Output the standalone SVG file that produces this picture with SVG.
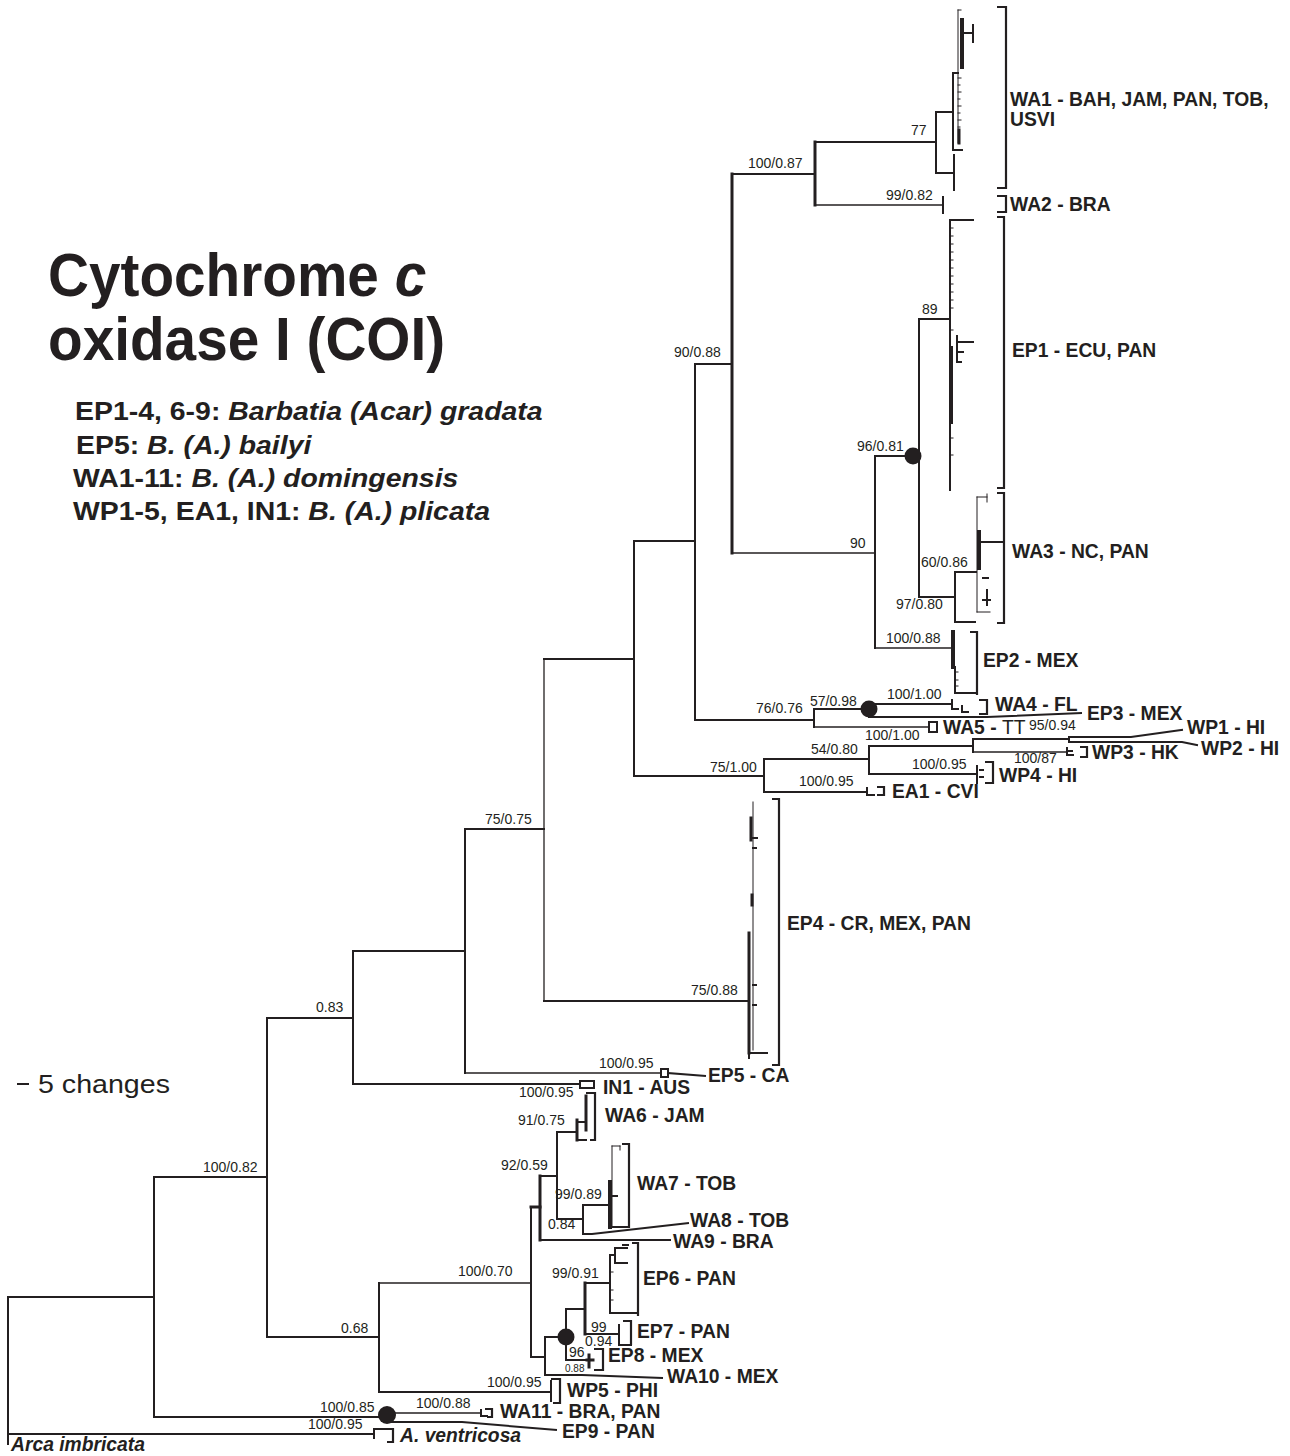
<svg xmlns="http://www.w3.org/2000/svg" width="1290" height="1456" viewBox="0 0 1290 1456">
<style>
.br{fill:none;stroke:#231f20;stroke-width:2;stroke-linecap:square}
.th{stroke-width:1.3}
.tk{stroke-width:3}
.tx{stroke-width:4}
.tn{stroke-width:1}
.bk{fill:none;stroke:#231f20;stroke-width:2.2}
.lb{font-family:"Liberation Sans",Arial,sans-serif;font-weight:bold;font-size:19.3px;fill:#231f20}
.it{font-style:italic}
.sp{font-family:"Liberation Sans",Arial,sans-serif;font-size:14px;fill:#231f20}
.dot{fill:#231f20}
.ttl{font-family:"Liberation Sans",Arial,sans-serif;font-weight:bold;font-size:61px;fill:#231f20}
.leg{font-family:"Liberation Sans",Arial,sans-serif;font-weight:bold;font-size:25.5px;fill:#231f20}
</style>
<rect width="1290" height="1456" fill="#fff"/>

<g id="title">
<text class="ttl" transform="matrix(0.93 0 0 1 48 296)">Cytochrome <tspan class="it">c</tspan></text>
<text class="ttl" transform="matrix(0.93 0 0 1 48 360)">oxidase I (COI)</text>
<text class="leg" transform="matrix(1.115 0 0 1 75 420)">EP1-4, 6-9: <tspan class="it">Barbatia (Acar) gradata</tspan></text>
<text class="leg" transform="matrix(1.115 0 0 1 76 454)">EP5: <tspan class="it">B. (A.) bailyi</tspan></text>
<text class="leg" transform="matrix(1.115 0 0 1 73 487)">WA1-11: <tspan class="it">B. (A.) domingensis</tspan></text>
<text class="leg" transform="matrix(1.115 0 0 1 73 520)">WP1-5, EA1, IN1: <tspan class="it">B. (A.) plicata</tspan></text>
</g>

<g id="scale">
<path class="br" d="M18 1084H28"/>
<text transform="matrix(1.1 0 0 1 38 1093)" font-family="Liberation Sans, Arial, sans-serif" font-size="26" fill="#231f20">5 changes</text>
</g>

<g id="connectors" class="br">
<path d="M8 1297V1444"/>
<path d="M8 1297H154"/>
<path d="M8 1434H374"/>
<path d="M154 1177V1417"/>
<path d="M154 1177H267"/>
<path d="M154 1417H387"/>
<path d="M267 1018V1337"/>
<path d="M267 1018H353"/>
<path d="M267 1337H379"/>
<path d="M353 951V1084"/>
<path d="M353 951H465"/>
<path d="M353 1084H580"/>
<path d="M465 829V1073"/>
<path d="M465 829H544"/>
<path class="th" d="M465 1073H661"/>
<path class="th" d="M544 659V1001"/>
<path d="M544 659H634"/>
<path d="M544 1001H748"/>
<path d="M634 541V776"/>
<path d="M634 541H695"/>
<path d="M634 776H764"/>
<path d="M695 364V720"/>
<path d="M695 364H732"/>
<path d="M695 720H814"/>
<path class="tk" d="M732 174V553"/>
<path d="M732 174H815"/>
<path class="th" d="M732 553H875"/>
<path class="tk" d="M815 142V205"/>
<path d="M815 142H936"/>
<path class="th" d="M815 205H943"/>
<path d="M936 112V173"/>
<path d="M936 112H953"/>
<path d="M936 173H954"/>
<path d="M875 456V648"/>
<path d="M875 456H913"/>
<path class="th" d="M875 648H951"/>
<path d="M919 319V597"/>
<path d="M919 319H950"/>
<path d="M919 597H955"/>
<path d="M955 572V622"/>
<path d="M955 572H976"/>
<path d="M955 622H975"/>
<path d="M814 709V727"/>
<path d="M814 709H869"/>
<path class="th" d="M814 727H929"/>
<path d="M869 704H952"/>
<path d="M869 717H987L1081 713"/>
<path d="M764 759V792"/>
<path d="M764 759H869"/>
<path d="M764 792H867"/>
<path d="M869 746V774"/>
<path d="M869 746H973"/>
<path d="M869 774H976"/>
<path d="M973 739V752"/>
<path d="M973 739H1069"/>
<path class="th" d="M973 752H1067"/>
<path d="M1069 737V742"/>
<path d="M1069 737H1131L1182 730"/>
<path d="M1069 742H1182L1197 745"/>
<path d="M379 1283V1392"/>
<path class="th" d="M379 1283H531"/>
<path d="M379 1392H551"/>
<path d="M531 1207V1357"/>
<path class="tk" d="M531 1207H540"/>
<path d="M531 1357H545"/>
<path class="tk" d="M540 1176V1240"/>
<path d="M540 1176H557"/>
<path d="M540 1240H573L670 1240"/>
<path d="M557 1132V1219"/>
<path d="M557 1132H577"/>
<path d="M557 1219H583"/>
<path d="M583 1205V1234"/>
<path d="M583 1205H610"/>
<path d="M583 1234H592L688 1223"/>
<path d="M545 1337V1375"/>
<path d="M545 1337H566"/>
<path d="M545 1375H582L662 1378"/>
<path d="M566 1309V1360"/>
<path d="M566 1309H585"/>
<path d="M566 1360H587"/>
<path class="tk" d="M585 1283V1334"/>
<path d="M585 1283H610"/>
<path d="M585 1334H619"/>
<path class="th" d="M387 1413H481"/>
<path d="M387 1422H462L556 1430"/>
<path d="M668 1073L705 1076"/>
</g>

<g id="support" class="sp">
<text x="203" y="1172">100/0.82</text>
<text x="316" y="1012">0.83</text>
<text x="485" y="824">75/0.75</text>
<text x="674" y="357">90/0.88</text>
<text x="748" y="168">100/0.87</text>
<text x="911" y="135">77</text>
<text x="886" y="200">99/0.82</text>
<text x="922" y="314">89</text>
<text x="857" y="451">96/0.81</text>
<text x="850" y="548">90</text>
<text x="921" y="567">60/0.86</text>
<text x="896" y="609">97/0.80</text>
<text x="886" y="643">100/0.88</text>
<text x="887" y="699">100/1.00</text>
<text x="810" y="706">57/0.98</text>
<text x="756" y="713">76/0.76</text>
<text x="865" y="740">100/1.00</text>
<text x="1029" y="730">95/0.94</text>
<text x="811" y="754">54/0.80</text>
<text x="1014" y="763">100/87</text>
<text x="912" y="769">100/0.95</text>
<text x="710" y="772">75/1.00</text>
<text x="799" y="786">100/0.95</text>
<text x="691" y="995">75/0.88</text>
<text x="599" y="1068">100/0.95</text>
<text x="519" y="1097">100/0.95</text>
<text x="518" y="1125">91/0.75</text>
<text x="501" y="1170">92/0.59</text>
<text x="555" y="1199">99/0.89</text>
<text x="548" y="1229">0.84</text>
<text x="458" y="1276">100/0.70</text>
<text x="552" y="1278">99/0.91</text>
<text x="341" y="1333">0.68</text>
<text x="591" y="1332">99</text>
<text x="585" y="1346">0.94</text>
<text x="569" y="1357">96</text>
<text x="565" y="1372" font-size="10">0.88</text>
<text x="487" y="1387">100/0.95</text>
<text x="416" y="1408">100/0.88</text>
<text x="320" y="1412">100/0.85</text>
<text x="308" y="1429">100/0.95</text>
</g>

<g id="dot1"><circle class="dot" cx="913" cy="456" r="8.5"/></g>
<g id="dot2"><circle class="dot" cx="869" cy="709" r="8.5"/></g>
<g id="dot3"><circle class="dot" cx="566" cy="1337" r="8.5"/></g>
<g id="dot4"><circle class="dot" cx="387" cy="1415" r="9"/></g>

<g id="WA1">
<path class="br" d="M953 73V150M953 73H958M953 150H962"/>
<path class="br tn" d="M958 10V143M958 10H961M958 78H961M958 85H960M958 92H961M958 99H960M958 106H961M958 113H960M958 120H961M958 127H960"/>
<path class="br tx" d="M962 20V67"/>
<path class="br" d="M962 33H973M973 25V42"/>
<path class="br tk" d="M959 130V143"/>
<path class="br" d="M954 155V190"/>
<path class="bk" d="M997 7H1006V188H997"/>
<text class="lb" x="1010" y="106">WA1 - BAH, JAM, PAN, TOB,</text>
<text class="lb" x="1010" y="126">USVI</text>
</g>

<g id="WA2">
<path class="br" d="M943 197V213"/>
<path class="bk" d="M997 196H1006V212H997"/>
<text class="lb" x="1010" y="211">WA2 - BRA</text>
</g>

<g id="EP1">
<path class="br" d="M950 220V490M950 220H973"/>
<path class="br tn" d="M950 228H953M950 236H953M950 244H953M950 252H953M950 260H953M950 268H953M950 276H953M950 284H953M950 292H953M950 300H953M950 308H953M950 330H953M950 438H953M950 455H953"/>
<path class="br tx" d="M951 348V422"/>
<path class="br" d="M957 336V362M957 342H973M957 352H963M957 362H961"/>
<path class="bk" d="M997 217H1004V488H997"/>
<text class="lb" x="1012" y="357">EP1 - ECU, PAN</text>
</g>

<g id="WA3">
<path class="br tn" d="M977 497V612M977 497H987M987 494V502M977 612H990"/>
<path class="br tx" d="M979 532V568"/>
<path class="br" d="M980 542H990M983 578H988M987 590V605M983 600H990"/>
<path class="bk" d="M997 493H1004V623H997M988 542H1004"/>
<text class="lb" x="1012" y="558">WA3 - NC, PAN</text>
</g>

<g id="EP2">
<path class="br tx" d="M953 632V667"/>
<path class="br" d="M955 667V693H977"/>
<path class="br tn" d="M955 672H958M955 680H958M955 686H958"/>
<path class="bk" d="M970 632H977V695"/>
<text class="lb" x="983" y="667">EP2 - MEX</text>
</g>

<g id="WA4">
<path class="br" d="M952 700V709H958M962 706V712H968"/>
<path class="bk" d="M979 700H987V714H979"/>
<text class="lb" x="995" y="711">WA4 - FL</text>
</g>

<g id="EP3"><text class="lb" x="1087" y="720">EP3 - MEX</text></g>

<g id="WA5">
<path class="br" d="M929 722V732H937V722H931"/>
<text class="lb" x="943" y="734">WA5 - <tspan font-weight="normal">TT</tspan></text>
</g>

<g id="WP1"><text class="lb" x="1187" y="734">WP1 - HI</text></g>
<g id="WP2"><text class="lb" x="1201" y="755">WP2 - HI</text></g>

<g id="WP3">
<path class="br" d="M1067 748V755H1073M1069 751H1072"/>
<path class="bk" d="M1080 747H1087V757H1080"/>
<text class="lb" x="1092" y="759">WP3 - HK</text>
</g>

<g id="WP4">
<path class="br" d="M977 766V783M980 770H983M980 777H983"/>
<path class="bk" d="M985 762H993V783H985"/>
<text class="lb" x="999" y="782">WP4 - HI</text>
</g>

<g id="EA1">
<path class="br" d="M867 788V795H874"/>
<path class="bk" d="M877 787H884V795H877"/>
<text class="lb" x="892" y="798">EA1 - CVI</text>
</g>

<g id="EP4">
<path class="br tn" d="M753 802V1050"/>
<path class="br tk" d="M751 818V840M752 895V905M749 933V1053"/>
<path class="br" d="M753 838H757M753 848H756M753 985H756M753 1005H756"/>
<path class="br" d="M749 1053H767M749 1053V1058"/>
<path class="bk" d="M772 799H779V1065H772"/>
<text class="lb" x="787" y="930">EP4 - CR, MEX, PAN</text>
</g>

<g id="EP5">
<path class="br" d="M661 1069H668V1077H661Z"/>
<text class="lb" x="708" y="1082">EP5 - CA</text>
</g>

<g id="IN1">
<path class="br" d="M580 1081H594V1088H580Z"/>
<text class="lb" x="603" y="1094">IN1 - AUS</text>
</g>

<g id="WA6">
<path class="br tk" d="M577 1120V1140"/>
<path class="br" d="M577 1122H586M577 1140H586"/>
<path class="br tk" d="M586 1096V1130"/>
<path class="bk" d="M586 1093H595V1140H590"/>
<text class="lb" x="605" y="1122">WA6 - JAM</text>
</g>

<g id="WA7">
<path class="br tn" d="M612 1146V1227M612 1146H620M620 1146V1150"/>
<path class="br tx" d="M610 1182V1227"/>
<path class="br" d="M612 1196H617M612 1227H622"/>
<path class="bk" d="M622 1144H629V1227H622"/>
<text class="lb" x="637" y="1190">WA7 - TOB</text>
</g>

<g id="WA8"><text class="lb" x="690" y="1227">WA8 - TOB</text></g>
<g id="WA9"><text class="lb" x="673" y="1248">WA9 - BRA</text></g>

<g id="EP6">
<path class="br" d="M610 1255V1313H638M610 1255H615M615 1248V1263M615 1263H627M615 1248H627M623 1245H628"/>
<path class="br tn" d="M610 1272H613M610 1290H613M610 1300H613"/>
<path class="bk" d="M632 1243H638V1316"/>
<text class="lb" x="643" y="1285">EP6 - PAN</text>
</g>

<g id="EP7">
<path class="br" d="M619 1325V1345H631M624 1321H631"/>
<path class="bk" d="M631 1320V1345"/>
<text class="lb" x="637" y="1338">EP7 - PAN</text>
</g>

<g id="EP8">
<path class="br tk" d="M589 1355V1367M587 1360H593"/>
<path class="bk" d="M594 1349H603V1370H594"/>
<text class="lb" x="608" y="1362">EP8 - MEX</text>
</g>

<g id="WA10"><text class="lb" x="667" y="1383">WA10 - MEX</text></g>

<g id="WP5">
<path class="br" d="M551 1381V1401"/>
<path class="bk" d="M551 1379H560V1403H553"/>
<text class="lb" x="567" y="1397">WP5 - PHI</text>
</g>

<g id="WA11">
<path class="br" d="M481 1410V1416H487"/>
<path class="bk" d="M485 1409H492V1417H487"/>
<text class="lb" x="500" y="1418">WA11 - BRA, PAN</text>
</g>

<g id="EP9"><text class="lb" x="562" y="1438">EP9 - PAN</text></g>

<g id="Aventricosa">
<path class="br" d="M374 1429V1438M374 1429H386"/>
<path class="bk" d="M386 1429H393V1442H387"/>
<text class="lb it" x="400" y="1442">A. ventricosa</text>
</g>

<g id="Aimbricata">
<text class="lb it" x="11" y="1451">Arca imbricata</text>
</g>
</svg>
